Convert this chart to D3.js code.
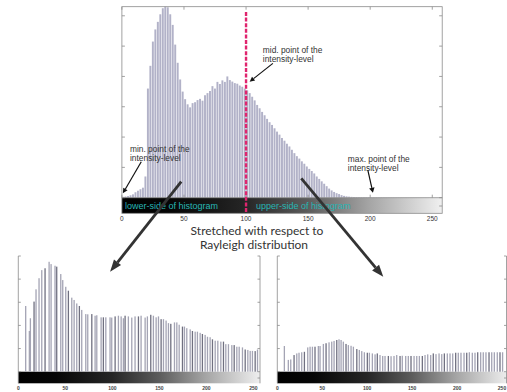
<!DOCTYPE html>
<html><head><meta charset="utf-8">
<script src="https://cdn.jsdelivr.net/npm/d3@7"></script>
<style>body{margin:0;background:#fff}svg{display:block}</style>
</head><body>
<svg id="c" width="507" height="392"></svg>
<script>
// ---------- DATA ----------
// top histogram: bins of width 2 starting at 0,2,...,254
const topBinWidth = 2;
const topCounts = [
  30,40,55,80,110,180,230,280,330,700,
  3600,4350,5150,5550,5800,6050,6250,6300,6280,6050,
  5700,5050,4450,3900,3500,3250,3080,2980,3120,3150,
  3220,3260,3200,3380,3450,3520,3680,3600,3820,3750,
  3870,3820,4000,3880,3830,3780,3760,3700,3660,3600,
  3540,3450,3330,3210,3060,2950,2830,2720,2600,2490,
  2400,2290,2180,2080,1970,1880,1780,1690,1580,1470,
  1370,1290,1200,1120,1030,950,880,800,700,620,
  540,460,380,300,240,190,150,120,85,60,
  45,35,28,22,20,18,16,15,14,13,
  12,11,10,10,9,9,8,8,7,7,
  6,6,5,5,5,4,4,4,3,3,
  3,2,2,2,2,1,1,0
];
const xTicks = [0,50,100,150,200,250];
const topYTicks = [0,1000,2000,3000,4000,5000,6000];
const lowYTicks = [0,1,2,3,4,5];

// stretched histograms (lower-left: low side stretched, lower-right: upper side stretched)
const leftPos = [7.8,11.7,12.8,16.7,18.8,22,24.9,28.4,32.7,34.8,39,40.8,45.1,47.2,50.4,53.2,56.8,59.3,62.1,64.9,
  67.4,71.7,73.8,78.1,81.6,83.4,88,90.4,93,97.5,99.3,102.9,106.4,109.3,111.7,113.5,117,120.6,124.1,127.7,
  130.5,134.8,137.2,140.8,143.6,146.5,149,151.8,154.3,157.1,159.6,162.1,166,168.5,171,174.5,176.6,179.1,182.7,185.1,
  188,190.4,193.3,195.7,198.6,201.1,203.9,206.4,209.3,212.1,215.3,218.1,220.6,223.4,227,229.5,232.3,234.8,238.3,241.2,
  244,246.5,248.9,251.8,254.3];
const leftVal = [2.84,1.76,2.31,3.03,3.56,4.04,4.39,4.47,4.75,4.65,4.58,4.54,4.22,3.96,3.67,3.5,3.2,3.1,2.95,2.84,
  2.67,2.49,2.48,2.49,2.42,2.44,2.35,2.35,2.35,2.35,2.34,2.39,2.42,2.39,2.31,2.42,2.39,2.34,2.39,2.39,
  2.42,2.34,2.39,2.46,2.42,2.35,2.39,2.27,2.27,2.21,2.1,2.07,2.13,2.13,2.03,1.95,1.95,1.88,1.83,1.76,
  1.73,1.73,1.68,1.63,1.59,1.51,1.49,1.4,1.34,1.34,1.3,1.3,1.19,1.19,1.15,1.15,1.08,1.08,1.05,0.96,
  0.94,0.9,0.9,0.89,0.96];
const rightPos = [7.8,12.2,14.9,18.6,21.6,24.1,27.1,30.1,33.8,36.4,39,41.9,45.6,47.5,51.2,54.2,57.5,60.5,63.1,66.1,
  68.6,70.9,73.4,76.4,79,82,84.6,88.4,91.2,93.9,96.8,100.1,102.4,105.7,108.7,111.2,114.2,117.2,119.8,123.5,
  126.5,129.8,132.8,136.5,139,142.8,145.7,148.7,152.1,155.1,158,161.3,164.3,167.3,170.6,173.5,176.5,179.9,182.9,185.8,
  189.1,192.1,195.1,198.4,201.3,204.3,207.7,210.7,213.6,216.9,219.9,222.9,226.2,229.1,232.1,235.5,238.5,241.4,244.7,247.7,
  250.6];
const rightVal = [1.11,0.51,0.53,0.72,0.79,0.82,0.84,0.86,1.05,1.08,1.08,1.08,1.11,1.11,1.2,1.23,1.27,1.3,1.33,1.37,
  1.4,1.37,1.3,1.2,1.15,1.12,1.08,0.98,0.94,0.89,0.84,0.82,0.82,0.79,0.75,0.79,0.72,0.68,0.68,0.68,
  0.67,0.68,0.72,0.68,0.69,0.68,0.68,0.68,0.68,0.68,0.68,0.68,0.72,0.75,0.72,0.79,0.76,0.79,0.76,0.79,
  0.79,0.79,0.79,0.82,0.82,0.82,0.82,0.82,0.84,0.82,0.82,0.84,0.84,0.84,0.84,0.84,0.84,0.84,0.84,0.84,
  0.84];
const grayStops = [[0,"#000000"],[40,"#060606"],[100,"#262626"],[150,"#5c5c5c"],[200,"#a6a6a6"],[250,"#e6e6e6"],[258,"#f0f0f0"]];

// ---------- DRAW ----------
const svg = d3.select("#c");
const defs = svg.append("defs");
const FONT = "'Liberation Sans', Arial, sans-serif";
const axisCol = "#8a8a8a";

function gradient(id, xs) {
  const g = defs.append("linearGradient").attr("id", id)
    .attr("gradientUnits", "userSpaceOnUse")
    .attr("x1", xs(0)).attr("x2", xs(258)).attr("y1", 0).attr("y2", 0);
  grayStops.forEach(s => g.append("stop")
    .attr("offset", s[0] / 258).attr("stop-color", s[1]));
}

function arrow(g, x1, y1, x2, y2, w, hl, hw, col) {
  const a = Math.atan2(y2 - y1, x2 - x1);
  const bx = x2 - hl * Math.cos(a), by = y2 - hl * Math.sin(a);
  g.append("line").attr("x1", x1).attr("y1", y1).attr("x2", bx).attr("y2", by)
    .attr("stroke", col).attr("stroke-width", w);
  const px = Math.sin(a) * hw / 2, py = -Math.cos(a) * hw / 2;
  g.append("path").attr("d", `M${x2},${y2}L${bx + px},${by + py}L${bx - px},${by - py}Z`).attr("fill", col);
}

// ===== top chart =====
const tx = d3.scaleLinear().domain([0, 258]).range([121.9, 442.2]);
const ty = d3.scaleLinear().domain([0, 6300]).range([197.7, 6.7]);
const cbTop = 197.7, cbBot = 213.3;
gradient("gTop", tx);
const topG = svg.append("g");
topG.selectAll("rect.bar").data(topCounts).join("rect").attr("class", "bar")
  .attr("x", (d, i) => tx(i * topBinWidth) + 0.2)
  .attr("width", (tx(topBinWidth) - tx(0)) - 0.55)
  .attr("y", d => ty(d)).attr("height", d => ty(0) - ty(d))
  .attr("fill", "#b2b2c8");
// colorbar
topG.append("rect").attr("x", tx(0)).attr("y", cbTop).attr("width", tx(258) - tx(0))
  .attr("height", cbBot - cbTop).attr("fill", "url(#gTop)");
// frame
topG.append("rect").attr("x", tx(0)).attr("y", ty(6300)).attr("width", tx(258) - tx(0))
  .attr("height", cbBot - ty(6300)).attr("fill", "none").attr("stroke", axisCol).attr("stroke-width", 0.8);
topG.append("line").attr("x1", tx(0)).attr("x2", tx(258)).attr("y1", cbTop).attr("y2", cbTop)
  .attr("stroke", axisCol).attr("stroke-width", 0.8);
// y ticks (inward, both sides)
topG.selectAll("line.yl").data(topYTicks).join("line").attr("class", "yl")
  .attr("x1", tx(0)).attr("x2", tx(0) + 3).attr("y1", d => ty(d)).attr("y2", d => ty(d))
  .attr("stroke", axisCol).attr("stroke-width", 0.8);
topG.selectAll("line.yr").data(topYTicks).join("line").attr("class", "yr")
  .attr("x1", tx(258)).attr("x2", tx(258) - 3).attr("y1", d => ty(d)).attr("y2", d => ty(d))
  .attr("stroke", axisCol).attr("stroke-width", 0.8);
topG.append("line").attr("x1", tx(258)).attr("x2", tx(258) - 3).attr("y1", 206).attr("y2", 206)
  .attr("stroke", axisCol).attr("stroke-width", 0.8);
// x ticks
topG.selectAll("line.xt").data(xTicks).join("line").attr("class", "xt")
  .attr("x1", d => tx(d)).attr("x2", d => tx(d)).attr("y1", ty(6300)).attr("y2", ty(6300) + 3)
  .attr("stroke", axisCol).attr("stroke-width", 0.8);
topG.selectAll("line.xb").data(xTicks).join("line").attr("class", "xb")
  .attr("x1", d => tx(d)).attr("x2", d => tx(d)).attr("y1", cbTop).attr("y2", cbTop - 3)
  .attr("stroke", axisCol).attr("stroke-width", 0.8);
topG.selectAll("text.xl").data(xTicks).join("text").attr("class", "xl")
  .attr("x", d => tx(d)).attr("y", 220.5).attr("text-anchor", "middle")
  .attr("font-family", FONT).attr("font-size", 6.5).attr("fill", "#333").text(d => d);
// teal labels in the colorbar
topG.append("text").attr("x", tx(2.5)).attr("y", 208.6).attr("font-family", FONT).attr("font-size", 9)
  .attr("fill", "#27b6b4").text("lower-side of histogram");
topG.append("text").attr("x", tx(108)).attr("y", 208.6).attr("font-family", FONT).attr("font-size", 9)
  .attr("fill", "#27b6b4").text("upper-side of histogram");
// mid line
topG.append("line").attr("x1", tx(100)).attr("x2", tx(100)).attr("y1", 12).attr("y2", cbBot)
  .attr("stroke", "#e0246e").attr("stroke-width", 2.4).attr("stroke-dasharray", "4,1.6");

// annotations
function label(x, y, lines) {
  lines.forEach((t, i) => topG.append("text").attr("x", x).attr("y", y + i * 9)
    .attr("font-family", FONT).attr("font-size", 8.4).attr("fill", "#333").text(t));
}
label(tx(113.5), 52.8, ["mid. point of the", "intensity-level"]);
label(tx(6.5), 152.3, ["min. point of the", "intensity-level"]);
label(tx(182), 161.8, ["max. point of the", "intensity-level"]);
arrow(topG, tx(121.6), ty(4431), tx(102.9), ty(3825), 1.2, 5, 5, "#111");
arrow(topG, tx(15.6), ty(1187), tx(0.8), ty(145), 1.2, 5, 5, "#111");
arrow(topG, tx(198.1), ty(913), tx(202.2), ty(165), 1.2, 5, 5.5, "#111");

// ===== lower charts =====
const ly = d3.scaleLinear().domain([0, 5]).range([371.7, 256]);
const lcbTop = 371.7, lcbBot = 383.3;
function lowerChart(id, xs, xmax, pos, val) {
  gradient(id, xs);
  const g = svg.append("g");
  g.append("rect").attr("x", xs(0)).attr("y", lcbTop).attr("width", xs(xmax) - xs(0))
    .attr("height", lcbBot - lcbTop).attr("fill", `url(#${id})`);
  g.selectAll("rect.b").data(pos).join("rect").attr("class", "b")
    .attr("x", d => xs(d) - 0.6).attr("width", 1.3)
    .attr("y", (d, i) => ly(val[i])).attr("height", (d, i) => ly(0) - ly(val[i]))
    .attr("fill", (d, i) => i % 4 === 3 ? "#707080" : "#a4a4b4");
  [xs(0), xs(xmax)].forEach((x, k) => {
    g.append("line").attr("x1", x).attr("x2", x).attr("y1", ly(5)).attr("y2", lcbBot)
      .attr("stroke", axisCol).attr("stroke-width", 0.8);
    g.selectAll("line.t" + k).data(lowYTicks).join("line").attr("class", "t" + k)
      .attr("x1", x).attr("x2", x + (k ? -2.5 : 2.5)).attr("y1", d => ly(d)).attr("y2", d => ly(d))
      .attr("stroke", axisCol).attr("stroke-width", 0.8);
  });
  g.append("line").attr("x1", xs(xmax)).attr("x2", xs(xmax) - 2.5).attr("y1", 378).attr("y2", 378)
    .attr("stroke", axisCol).attr("stroke-width", 0.8);
  g.selectAll("text.l").data(xTicks).join("text").attr("class", "l")
    .attr("x", d => xs(d)).attr("y", 390.3).attr("text-anchor", "middle")
    .attr("font-family", FONT).attr("font-size", 5).attr("font-weight", "bold").attr("fill", "#444").text(d => d);
  return g;
}
const lx = d3.scaleLinear().domain([0, 257]).range([18.3, 260]);
const rx = d3.scaleLinear().domain([0, 255]).range([277.3, 506.5]);
lowerChart("gL", lx, 257, leftPos, leftVal);
lowerChart("gR", rx, 255, rightPos, rightVal);

// big arrows linking the charts
const ov = svg.append("g");
arrow(ov, tx(47.8), ty(527), lx(97.6), ly(4.32), 2.8, 12, 9, "#333");
arrow(ov, tx(144.5), ty(640), rx(117.9), ly(4.1), 2.8, 12, 9, "#333");

// caption
const cap = svg.append("g").attr("font-family", "Lato, 'Open Sans', sans-serif").attr("font-size", 12)
  .attr("fill", "#333").attr("text-anchor", "middle");
cap.append("text").attr("x", 257).attr("y", 235).text("Stretched with respect to");
cap.append("text").attr("x", 254).attr("y", 248.5).text("Rayleigh distribution");
</script>
</body></html>
